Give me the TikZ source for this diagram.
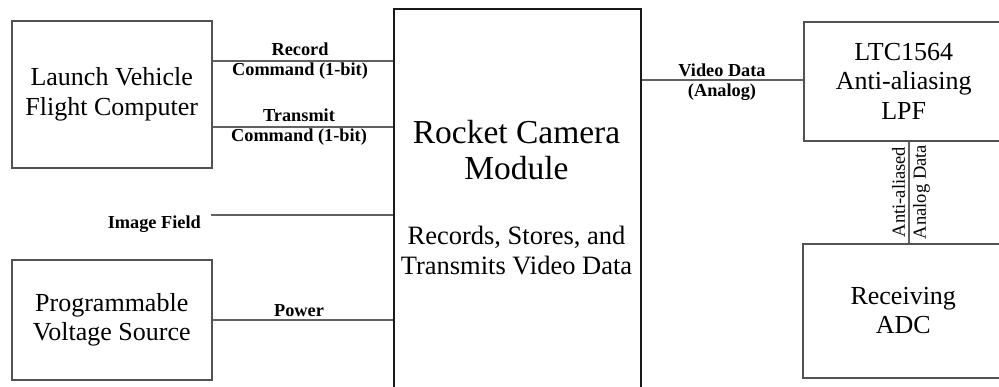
\documentclass[tikz,border=0pt]{standalone}
\usepackage{fontspec}
\setmainfont{Liberation Serif}
\begin{document}
\begin{tikzpicture}[x=1pt,y=-1pt,
  blockbox/.style={draw=black!68,line width=1.5pt,rectangle,inner sep=0pt,align=center,anchor=north west,font=\fontsize{26}{29.5}\selectfont},
  cambox/.style={draw=black!90,line width=2.4pt,rectangle,inner sep=0pt,anchor=north west},
  wire/.style={draw=black!62,line width=1.5pt},
  lbl/.style={inner sep=0pt,align=center,font=\fontsize{18.3}{20}\selectfont\bfseries},
  bigtxt/.style={inner sep=0pt,align=center},
]
\useasboundingbox (0,0) rectangle (999,386);
\clip (0,0) rectangle (999,386);
% blocks
\node[blockbox,minimum width=200pt,minimum height=147pt] (fc) at (11,20) {Launch Vehicle\\Flight Computer};
\node[blockbox,minimum width=200pt,minimum height=120pt] (pvs) at (11,259) {Programmable\\Voltage Source};
\node[cambox,minimum width=247pt,minimum height=400pt] (cam) at (393,8) {};
\node[blockbox,minimum width=200pt,minimum height=119pt] (lpf) at (803,21) {LTC1564\\Anti-aliasing\\LPF};
\node[blockbox,minimum width=201pt,minimum height=134pt] (adc) at (802,243) {Receiving\\ADC};
% camera texts
\node[bigtxt,font=\fontsize{33.5}{36}\selectfont] (camtitle) at (516.5,150) {Rocket Camera\\Module};
\node[bigtxt,font=\fontsize{26.5}{30}\selectfont] (camdesc) at (516.5,251) {Records, Stores, and\\Transmits Video Data};
% coordinates
\coordinate (yrec) at (0,61);
\coordinate (ytx) at (0,127);
\coordinate (imgend) at (211,215);
\coordinate (ypow) at (0,320);
\coordinate (yvid) at (0,80);
\coordinate (xv) at (909,0);
% connectors
\draw[wire] (fc.east |- yrec) -- (cam.west |- yrec);
\draw[wire] (fc.east |- ytx) -- (cam.west |- ytx);
\draw[wire] (imgend) -- (cam.west |- imgend);
\draw[wire] (pvs.east |- ypow) -- (cam.west |- ypow);
\draw[wire] (cam.east |- yvid) -- (lpf.west |- yvid);
\draw[wire] (lpf.south -| xv) -- (adc.north -| xv);
% labels
\node[lbl] (lrec) at (300,61) {Record\\Command (1-bit)};
\node[lbl] (ltx) at (299,127.5) {Transmit\\Command (1-bit)};
\node[lbl,anchor=east] (limg) at (201,224.5) {Image Field};
\node[lbl] (lpow) at (299,310.5) {Power};
\node[lbl] (lvid) at (722,82) {Video Data\\(Analog)};
\node[inner sep=0pt,align=center,rotate=90,font=\fontsize{18.5}{21}\selectfont] (laa) at (911,192) {Anti-aliased\\Analog Data};
\end{tikzpicture}
\end{document}
